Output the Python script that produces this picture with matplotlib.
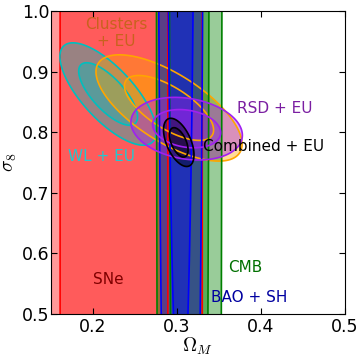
import numpy as np
import matplotlib
matplotlib.use('Agg')
import matplotlib.pyplot as plt

plt.rcParams['mathtext.fontset'] = 'cm'

# gaussian approximations of each probe in the (Omega_M, sigma_8) plane, in drawing order
probes = ['SNe', 'WL + EU', 'Clusters + EU', 'CMB', 'BAO + SH', 'RSD + EU', 'Combined + EU']
om_mean = [0.225, 0.218, 0.2905, 0.3145, 0.3044, 0.3115, 0.3021]
s8_mean = [0.80, 0.863, 0.840, 1.6, 1.6, 0.8058, 0.7832]
om_sig = [0.0423, 0.0231, 0.0350, 0.0158, 0.01095, 0.0267, 0.0073]
s8_sig = [10.0, 0.034, 0.0353, 2.0, 0.85, 0.0208, 0.0160]
corr = [0.0, -0.73, -0.68, 0.0, 0.0, -0.21, -0.52]
fill_cols = ['r', 'c', 'orange', 'g', 'b', '#a020f0', 'k']
line_cols = ['r', 'c', 'orange', 'g', 'b', '#a020f0', 'k']

# label text, position, colour
lab_text = ['Clusters\n+ EU', 'WL + EU', 'RSD + EU', 'Combined + EU', 'SNe', 'CMB', 'BAO + SH']
lab_x = [0.2274, 0.2101, 0.416, 0.403, 0.2185, 0.381, 0.3863]
lab_y = [0.9637, 0.760, 0.839, 0.777, 0.557, 0.577, 0.527]
lab_col = ['#c8621e', '#22c8d0', '#7b1fa2', 'k', '#7f0000', '#007000', '#0000a0']

lev1 = 2.30
lev2 = 6.17


def chi2(X, Y, mx, my, sx, sy, r):
    dx = (X - mx) / sx
    dy = (Y - my) / sy
    return (dx ** 2 - 2 * r * dx * dy + dy ** 2) / (1 - r ** 2)


om = np.linspace(0.10, 0.55, 700)
s8 = np.linspace(0.45, 1.05, 700)
X, Y = np.meshgrid(om, s8)

fig = plt.figure(figsize=(3.63, 3.59), dpi=100)
ax = fig.add_axes([0.1405, 0.1253, 0.8099, 0.8441])

surfaces = []
for i in range(len(probes)):
    c2 = chi2(X, Y, om_mean[i], s8_mean[i], om_sig[i], s8_sig[i], corr[i])
    surfaces.append(c2)
    ax.contourf(X, Y, c2, levels=[0, lev2], colors=[fill_cols[i]], alpha=0.4, antialiased=True)
    ax.contourf(X, Y, c2, levels=[0, lev1], colors=[fill_cols[i]], alpha=0.4, antialiased=True)

for i in range(len(probes)):
    ax.contour(X, Y, surfaces[i], levels=[lev1, lev2], colors=[line_cols[i]], linewidths=1.2)

for i in range(len(lab_text)):
    ax.text(lab_x[i], lab_y[i], lab_text[i], color=lab_col[i], fontsize=11,
            ha='center', va='center', multialignment='center')

ax.set_xlim(0.15, 0.5)
ax.set_ylim(0.5, 1.0)
ax.set_xticks([0.2, 0.3, 0.4, 0.5])
ax.set_yticks([0.5, 0.6, 0.7, 0.8, 0.9, 1.0])
ax.tick_params(direction='in', top=True, right=True, length=4, labelsize=12.5)
ax.tick_params(axis='y', pad=1)
ax.tick_params(axis='x', pad=3)
ax.set_xlabel(r'$\Omega_M$', fontsize=14, labelpad=0)
ax.set_ylabel(r'$\sigma_8$', fontsize=14, labelpad=2)

fig.savefig('out.png', dpi=100)
